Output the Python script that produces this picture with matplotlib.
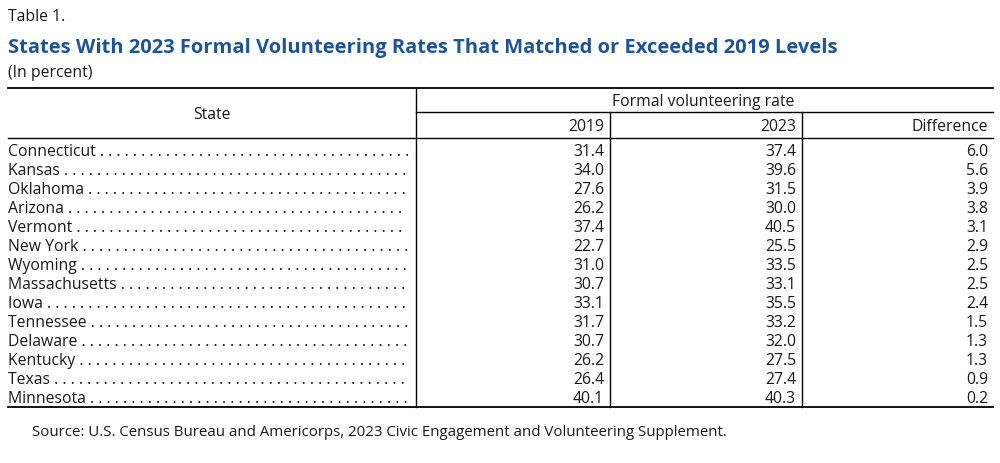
import matplotlib
matplotlib.use("Agg")
import matplotlib.pyplot as plt

states = ["Connecticut", "Kansas", "Oklahoma", "Arizona", "Vermont", "New York", "Wyoming",
          "Massachusetts", "Iowa", "Tennessee", "Delaware", "Kentucky", "Texas", "Minnesota"]
rate_2019 = [31.4, 34.0, 27.6, 26.2, 37.4, 22.7, 31.0, 30.7, 33.1, 31.7, 30.7, 26.2, 26.4, 40.1]
rate_2023 = [37.4, 39.6, 31.5, 30.0, 40.5, 25.5, 33.5, 33.1, 35.5, 33.2, 32.0, 27.5, 27.4, 40.3]
difference = [6.0, 5.6, 3.9, 3.8, 3.1, 2.9, 2.5, 2.5, 2.4, 1.5, 1.3, 1.3, 0.9, 0.2]
col_labels = ["2019", "2023", "Difference"]

plt.rcParams['font.family'] = ['Open Sans', 'DejaVu Sans']
fig = plt.figure(figsize=(10, 4.64), dpi=100)
ax = fig.add_axes([0, 0, 1, 1])
ax.set_xlim(0, 1000)
ax.set_ylim(464, 0)
ax.axis('off')
renderer = fig.canvas.get_renderer()

fs = 11.3
c = '#1a1a1a'
ax.text(8, 17, "Table 1.", fontsize=fs, va='center', color=c)
ax.text(8, 48, "States With 2023 Formal Volunteering Rates That Matched or Exceeded 2019 Levels",
        fontsize=14.5, fontweight='bold', color='#1f5596', va='center')
ax.text(8, 73, "(In percent)", fontsize=fs, va='center', color=c)

lw = 1.0
ax.plot([8, 993], [89, 89], color='k', lw=1.3)
ax.plot([416, 416], [89, 408], color='k', lw=lw)
ax.plot([416, 993], [113, 113], color='k', lw=lw)
ax.plot([610, 610], [113, 408], color='k', lw=lw)
ax.plot([802, 802], [113, 408], color='k', lw=lw)
ax.plot([8, 993], [139, 139], color='k', lw=lw)
ax.plot([8, 993], [408, 408], color='k', lw=1.3)

ax.text(212, 115, "State", fontsize=fs, ha='center', va='center', color=c)
ax.text(703, 102, "Formal volunteering rate", fontsize=fs, ha='center', va='center', color=c)
for x, lab in zip([604, 796, 988], col_labels):
    ax.text(x, 127, lab, fontsize=fs, ha='right', va='center', color=c)

for i, s in enumerate(states):
    y = 152 + i * 19
    t = ax.text(8, y, s, fontsize=fs, va='center', color=c)
    n = 1
    while True:
        t.set_text(s + " " + ". " * (n + 1))
        if t.get_window_extent(renderer).x1 > 414:
            break
        n += 1
    t.set_text(s + " " + ". " * n)
    for x, v in zip([604, 796, 988], [rate_2019[i], rate_2023[i], difference[i]]):
        ax.text(x, y, f"{v:.1f}", fontsize=fs, ha='right', va='center', color=c)

ax.text(32, 433, "Source: U.S. Census Bureau and Americorps, 2023 Civic Engagement and Volunteering Supplement.",
        fontsize=10.8, va='center', color=c)

fig.savefig("out.png", dpi=100)
